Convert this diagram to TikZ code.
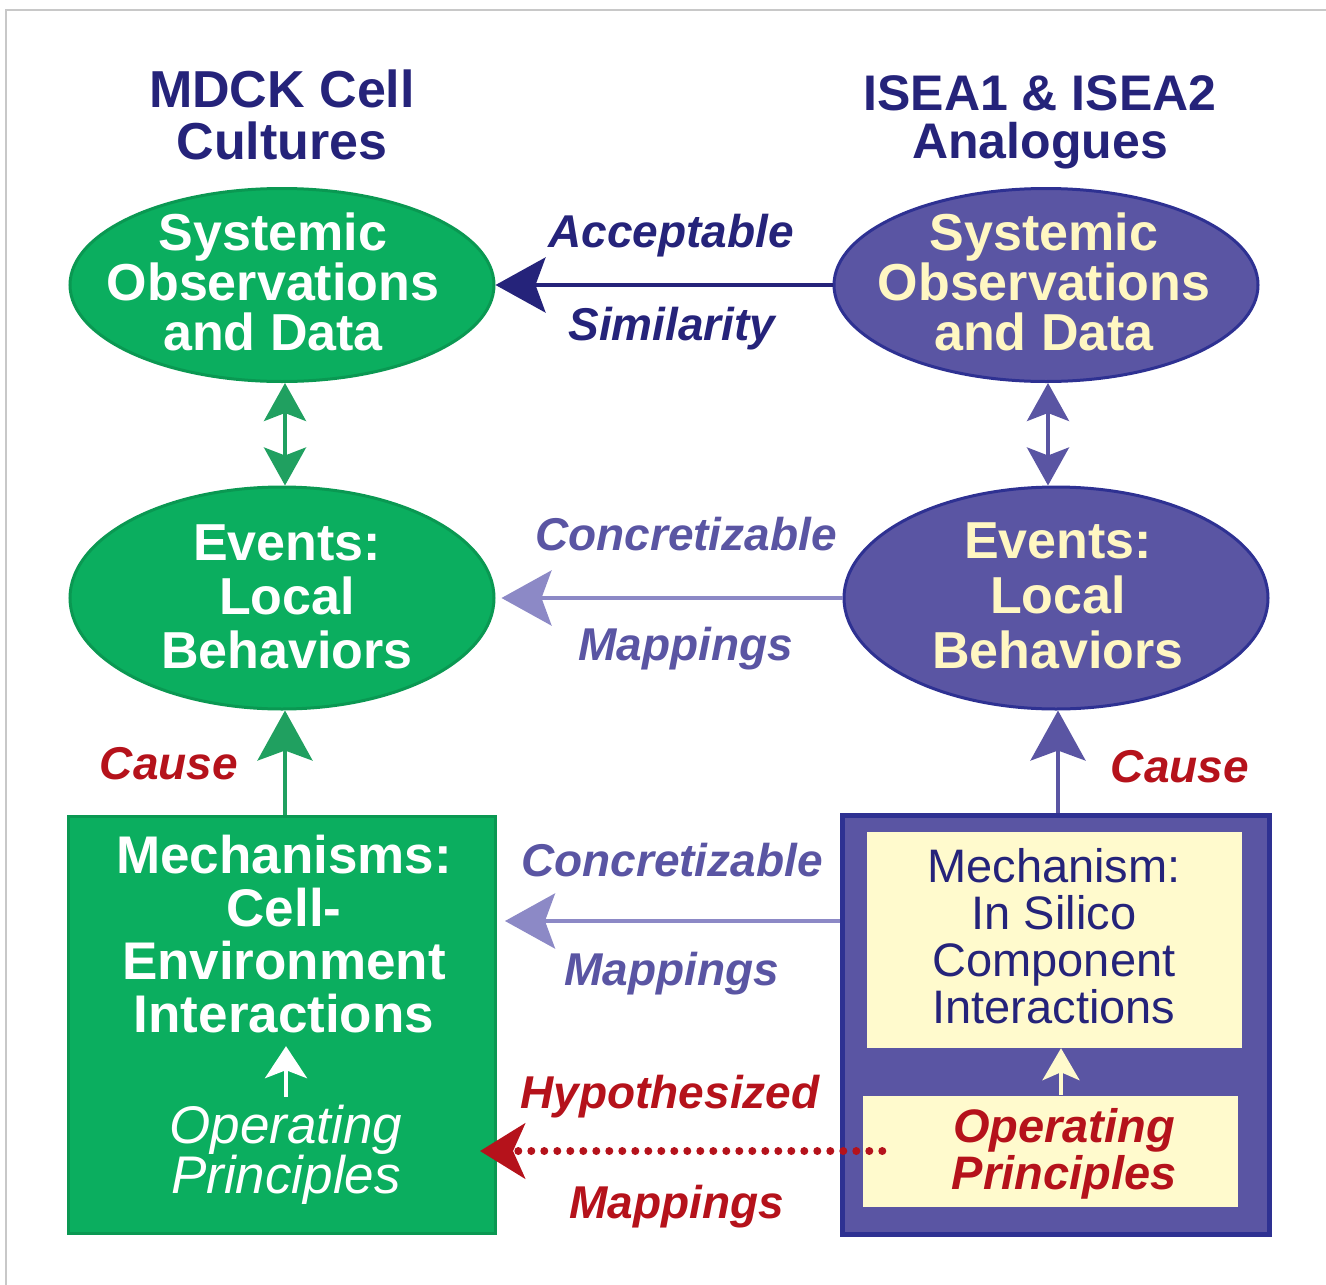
\documentclass[tikz,border=0pt]{standalone}
\usepackage{fontspec}
\setmainfont{Liberation Sans}
\usepackage{xcolor}
\usepackage{tikz}
\usetikzlibrary{positioning}
\usetikzlibrary{arrows.meta, shapes.geometric, calc}

\definecolor{cellgreen}{HTML}{0BAE5F}
\definecolor{greenedge}{HTML}{0A9852}
\definecolor{greenarrow}{HTML}{20A060}
\definecolor{iseapurple}{HTML}{5A55A3}
\definecolor{iseaedge}{HTML}{2E3192}
\definecolor{navy}{HTML}{25237A}
\definecolor{lilac}{HTML}{8C89C6}
\definecolor{cream}{HTML}{FFF7C2}
\definecolor{paleyellow}{HTML}{FFFACD}
\definecolor{darkred}{HTML}{B5121B}
\definecolor{framegray}{HTML}{C8C8C8}

\begin{document}
\begin{tikzpicture}[x=1pt, y=-1pt,
        greenblob/.style={ellipse, draw=greenedge, fill=cellgreen, line width=3pt, minimum width=424pt},
        purpleblob/.style={ellipse, draw=iseaedge, fill=iseapurple, line width=3pt, minimum width=424pt},
        bigtext/.style={align=center, inner sep=0pt, font=\bfseries\fontsize{52}{50}\selectfont},
        armlabel/.style={anchor=base, inner sep=0pt, font=\bfseries\itshape\fontsize{46}{46}\selectfont},
        bighead/.style={-{Stealth[length=50pt, width=55pt, inset=10pt]}, line width=4pt},
        twohead/.style={{Stealth[length=38pt, width=42pt, inset=8pt]}-{Stealth[length=38pt, width=42pt, inset=8pt]}, line width=4pt}
    ]
        \useasboundingbox (0,0) rectangle (1326,1285);
        \draw[framegray, line width=1.5pt] (6,1285) -- (6,10) -- (1326,10);

        \begin{scope}
            \node[bigtext, text=navy, font=\bfseries\fontsize{52}{52}\selectfont] (hdrL) at (282,115) {MDCK Cell\\Cultures};
            \node[greenblob, minimum height=193pt] (obsL) at (282,285) {};
            \node[bigtext, text=white] (obsLtext) at (273,282) {Systemic\\Observations\\and Data};
            \node[greenblob, minimum height=222pt] (evL) at (282,598) {};
            \node[bigtext, text=white, font=\bfseries\fontsize{52}{54}\selectfont] (evLtext) at (287,597) {Events:\\Local\\Behaviors};
            \node[draw=greenedge, fill=cellgreen, line width=3pt, minimum width=427pt, minimum height=417pt] (mechL) at (282,1025) {};
            \node[bigtext, text=white, font=\bfseries\fontsize{53}{53}\selectfont] (mechLtext) at (284,934) {Mechanisms:\\Cell-\\Environment\\Interactions};
            \node[align=center, inner sep=0pt, text=white, font=\itshape\fontsize{53}{48}\selectfont] (opL) at (286,1155) {Operating\\Principles};
        \end{scope}

        \begin{scope}
            \node[bigtext, text=navy, font=\bfseries\fontsize{50}{48}\selectfont] (hdrR) at (1040,122) {ISEA1 \& ISEA2\\Analogues};
            \node[purpleblob, minimum height=193pt] (obsR) at (1046,285) {};
            \node[bigtext, text=cream] (obsRtext) at (1044,282) {Systemic\\Observations\\and Data};
            \node[purpleblob, minimum height=222pt] (evR) at (1056,598) {};
            \node[bigtext, text=cream, font=\bfseries\fontsize{52}{55}\selectfont] (evRtext) at (1058,596) {Events:\\Local\\Behaviors};
            \node[draw=iseaedge, fill=iseapurple, line width=5pt, minimum width=427pt, minimum height=419pt] (mechR) at (1056,1025) {};
            \node[fill=paleyellow, minimum width=375pt, minimum height=216pt, text depth=9pt, align=center, inner sep=0pt, text=navy, font=\fontsize{47}{47}\selectfont] (mechRin) at (1054,940) {Mechanism:\\In Silico\\Component\\Interactions};
            \node[fill=paleyellow, minimum width=375pt, minimum height=111pt] (opRbox) at (1050,1151) {};
            \node[align=center, inner sep=0pt, text=darkred, font=\bfseries\itshape\fontsize{47}{47}\selectfont] (opR) at (1064,1154) {Operating\\Principles};
        \end{scope}

        \draw[bighead, navy] (obsR.west) -- (obsL.east);
        \draw[bighead, lilac, shorten >=6pt] (evR.west) -- (evL.east);
        \draw[bighead, lilac, shorten >=8pt] ([yshift=104pt]mechR.west) -- ([yshift=104pt]mechL.east);
        \draw[darkred, line width=8pt, line cap=round, dash pattern=on 0pt off 13pt, -{Stealth[length=45pt, width=55pt, inset=12pt]}, shorten >=-17pt] ([xshift=20pt]opRbox.west) -- (opRbox.west -| mechL.east);

        \draw[twohead, greenarrow] ([xshift=3pt]obsL.south) -- ([xshift=3pt]evL.north);
        \draw[twohead, iseapurple] ([xshift=2pt]obsR.south) -- ([xshift=2pt]obsR.south |- evR.north);
        \draw[bighead, greenarrow] ([xshift=3pt]mechL.north) -- ([xshift=3pt]evL.south);
        \draw[bighead, iseapurple] ([xshift=2pt]mechR.north) -- ([xshift=2pt]evR.south);

        \draw[white, line width=4pt, -{Stealth[length=32pt, width=42pt, inset=8pt]}, shorten <=8pt, shorten >=13pt] (opL.north) -- (opL.north |- mechLtext.south);
        \draw[paleyellow, line width=4pt, -{Stealth[length=32pt, width=37pt, inset=8pt]}] ([xshift=-3pt]opRbox.north -| opR.north) -- ([xshift=-3pt]mechRin.south -| opR.north);

        \node[armlabel, text=navy] (accept) at (671,247) {Acceptable};
        \node[armlabel, text=navy] (simil) at (672,340) {Similarity};
        \node[armlabel, text=iseapurple] (concA) at (686,550) {Concretizable};
        \node[armlabel, text=iseapurple] (mapA) at (686,660) {Mappings};
        \node[armlabel, text=iseapurple] (concB) at (672,876) {Concretizable};
        \node[armlabel, text=iseapurple] (mapB) at (672,985) {Mappings};
        \node[armlabel, text=darkred] (hypo) at (670,1108) {Hypothesized};
        \node[armlabel, text=darkred] (mapC) at (677,1218) {Mappings};
        \node[armlabel, text=darkred] (causeL) at (169,779) {Cause};
        \node[armlabel, text=darkred] (causeR) at (1180,782) {Cause};
\end{tikzpicture}
\end{document}
